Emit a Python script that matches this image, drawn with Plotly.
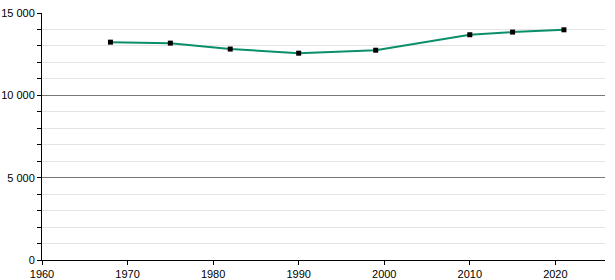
import plotly.graph_objects as go

years = [1968, 1975, 1982, 1990, 1999, 2010, 2015, 2021]
population = [13230, 13170, 12810, 12560, 12740, 13680, 13840, 13980]
x_ticks = [1960, 1970, 1980, 1990, 2000, 2010, 2020]
y_ticks = [0, 5000, 10000, 15000]
y_labels = ["0", "5 000", "10 000", "15 000"]

fig = go.Figure()
fig.add_trace(go.Scatter(
    x=years, y=population, mode="lines+markers",
    line=dict(color="#0b8f6b", width=2),
    marker=dict(symbol="square", size=5, color="black"),
    hoverinfo="x+y",
))

fig.update_layout(
    width=615, height=280,
    margin=dict(l=42, r=10, t=13, b=20, autoexpand=False),
    paper_bgcolor="white", plot_bgcolor="white",
    showlegend=False,
    font=dict(family="Liberation Sans, Arial, sans-serif", size=11, color="black"),
    xaxis=dict(
        range=[1960, 2025.8], tickvals=x_ticks, showgrid=False, zeroline=False,
        showline=True, linecolor="black", linewidth=1, automargin=False,
        ticks="outside", ticklen=4, tickcolor="black",
    ),
    yaxis=dict(
        range=[0, 15000], tickvals=y_ticks, ticktext=y_labels, automargin=False,
        showgrid=True, gridcolor="#777777", gridwidth=1, zeroline=False,
        showline=True, linecolor="black", linewidth=1,
        ticks="outside", ticklen=4, tickcolor="black",
        minor=dict(dtick=1000, showgrid=True, gridcolor="#e4e4e4",
                   ticks="outside", ticklen=4, tickcolor="black"),
    ),
)

fig.write_html("out.html")
